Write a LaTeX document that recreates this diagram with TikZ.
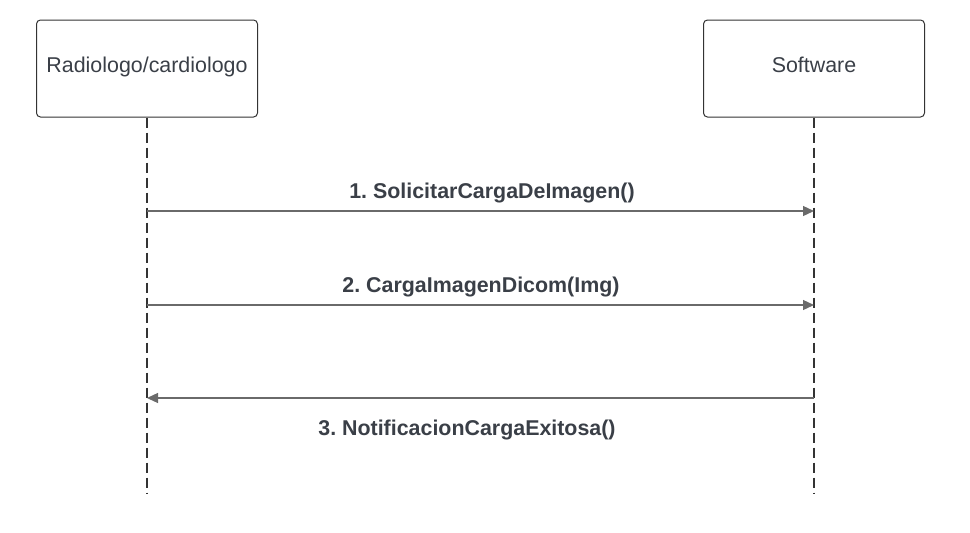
\documentclass[tikz,border=0pt]{standalone}
\usepackage{fontspec}
\setmainfont{Liberation Sans}
\usetikzlibrary{arrows.meta}
\frenchspacing
\definecolor{txt}{HTML}{3A3F47}
\definecolor{ln}{HTML}{6A6A6A}
\definecolor{bx}{HTML}{333333}
\tikzset{
  actor/.style={draw=bx, line width=1pt, rounded corners=4pt, minimum width=221pt, minimum height=97pt, inner sep=0pt, text=txt, text height=15.6pt, text depth=8pt, font=\fontsize{21.4}{24}\selectfont},
  lifeline/.style={draw=bx, line width=1.2pt, dash pattern=on 10pt off 5pt},
  msg/.style={draw=ln, line width=1.3pt, -{Triangle[length=11pt,width=10pt]}},
  lbl/.style={text=txt, font=\fontsize{21.4}{24}\selectfont\bfseries, inner sep=0pt}
}
\begin{document}
\begin{tikzpicture}[x=1pt,y=-1pt]
\useasboundingbox (0,0) rectangle (970,533);
\node[actor] (r) at (147,68.5) {Radiologo/cardiologo};
\node[actor] (s) at (814,68.5) {Software};
\coordinate (rend) at (147,493);
\coordinate (send) at (814,493);
\draw[lifeline] (r.south) -- (rend);
\draw[lifeline] (s.south) -- (send);
\coordinate (a1) at (147,211);
\coordinate (b1) at (814,211);
\coordinate (a2) at (147,305);
\coordinate (b2) at (814,305);
\coordinate (a3) at (147,398);
\coordinate (b3) at (814,398);
\draw[msg] (a1) -- (b1);
\draw[msg] (a2) -- (b2);
\draw[msg] (b3) -- (a3);
\node[lbl] (l1) at (492,193) {1. SolicitarCargaDeImagen()};
\node[lbl] (l2) at (481,287) {2. CargaImagenDicom(Img)};
\node[lbl] (l3) at (467,430) {3. NotificacionCargaExitosa()};
\end{tikzpicture}
\end{document}
